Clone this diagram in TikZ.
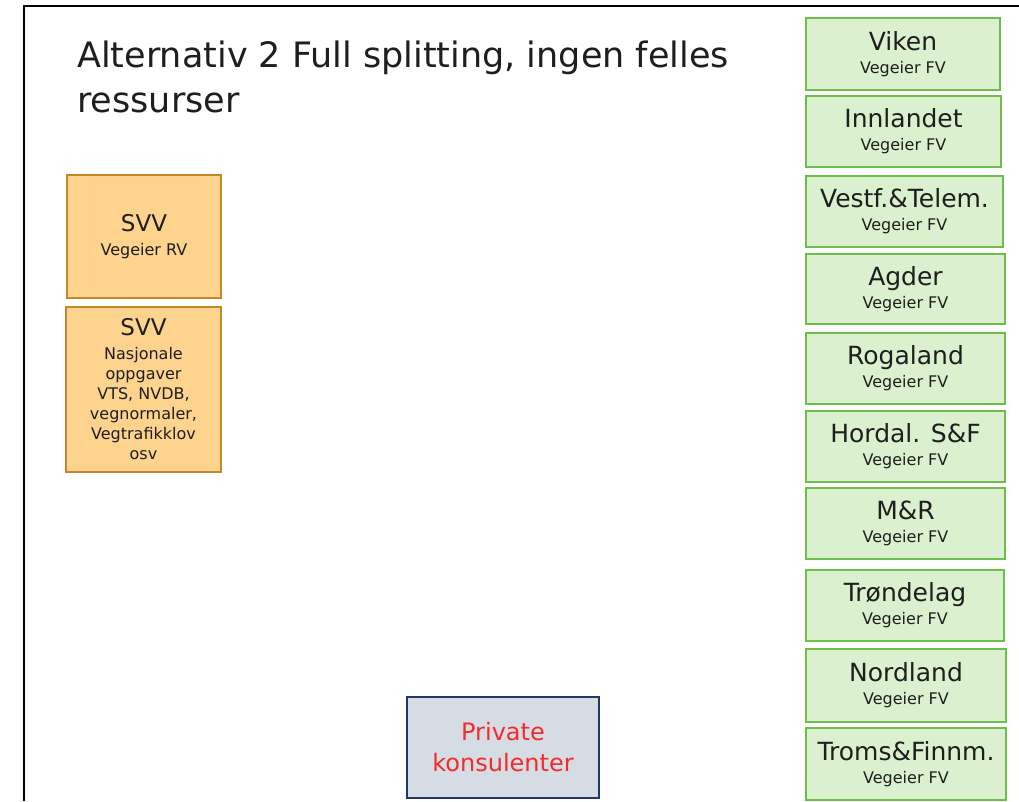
\documentclass[tikz,border=0pt]{standalone}
\usepackage{fontspec}
\setmainfont{DejaVu Sans}
\definecolor{gfill}{HTML}{DAF0CF}
\definecolor{gline}{HTML}{6CBF4A}
\definecolor{ofill}{HTML}{FDD38E}
\definecolor{oline}{HTML}{C48628}
\definecolor{bfill}{HTML}{D6DCE4}
\definecolor{bline}{HTML}{1F3864}
\definecolor{rtext}{HTML}{F52A2A}
\definecolor{dtext}{HTML}{1E1E1E}
\tikzset{
  region/.style={draw=gline, fill=gfill, line width=2.8pt, inner sep=0pt, align=center, text=dtext,
    font=\fontsize{25}{23}\selectfont},
  svvbox/.style={draw=oline, fill=ofill, line width=2.6pt, inner sep=0pt, align=center, text=dtext},
  privbox/.style={draw=bline, fill=bfill, line width=2.6pt, inner sep=0pt, align=center, text=rtext,
    font=\fontsize{24}{31}\selectfont},
  frameline/.style={draw=black, line width=2pt},
}
\newcommand{\rsub}{\fontsize{16}{23}\selectfont}
\newcommand{\ssm}{\fontsize{16}{20}\selectfont}
\newcommand{\regbox}[6]{%
  \node[region, minimum width={#5-#3}, minimum height={#6-#4}] (#1) at ({(#3+#5)/2},{(#4+#6)/2})
    {#2\\\rsub Vegeier FV};}
\begin{document}
\begin{tikzpicture}[x=1pt,y=-1pt]
\useasboundingbox (0,0) rectangle (1019,801);
\fill[white] (0,0) rectangle (1019,801);
\coordinate (fa) at (24,801);
\coordinate (fb) at (24,6);
\coordinate (fc) at (1019,6);
\draw[frameline] (fa) -- (fb) -- (fc);

\node[anchor=base west, align=left, text=dtext, inner sep=0pt, font=\fontsize{35}{45}\selectfont] (title) at (77,112)
  {Alternativ 2 Full splitting, ingen felles\\ressurser};

\node[svvbox, minimum width=154pt, minimum height=123pt, font=\fontsize{23}{24}\selectfont] (svv1) at (144,236.5)
  {SVV\\\fontsize{16}{24}\selectfont Vegeier RV};
\node[svvbox, minimum width=155pt, minimum height=165pt, font=\fontsize{23}{20}\selectfont] (svv2) at (143.5,389.5)
  {SVV\\[4pt]\ssm Nasjonale\\\ssm oppgaver\\\ssm VTS, NVDB,\\\ssm vegnormaler,\\\ssm Vegtrafikklov\\\ssm osv};

\node[privbox, minimum width=192pt, minimum height=101pt] (priv) at (503,747.5)
  {Private\\konsulenter};

\regbox{viken}{Viken}{806}{18}{1000}{90}
\regbox{innl}{Innlandet}{806}{96}{1001}{167}
\regbox{vt}{Vestf.\&Telem.}{806}{176}{1003}{247}
\regbox{agder}{Agder}{806}{254}{1005}{324}
\regbox{rog}{Rogaland}{806}{333}{1005}{404}
\regbox{hsf}{Hordal. S\&F}{806}{411}{1005}{482}
\regbox{mr}{M\&R}{806}{488}{1005}{559}
\regbox{trd}{Trøndelag}{806}{570}{1004}{641}
\regbox{nordl}{Nordland}{806}{649}{1006}{722}
\regbox{tf}{Troms\&Finnm.}{806}{728}{1006}{800}
\end{tikzpicture}
\end{document}
